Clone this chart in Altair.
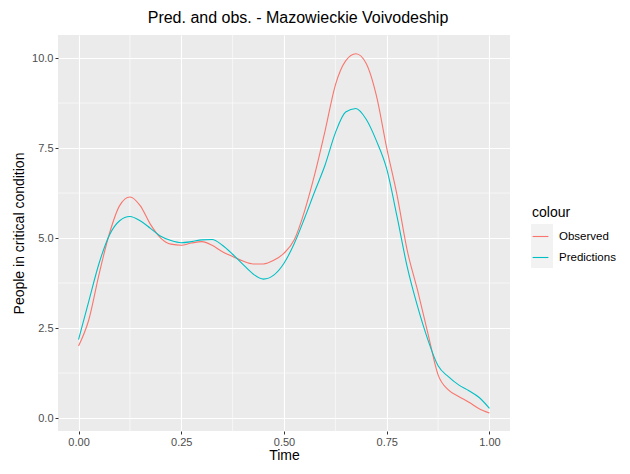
import altair as alt
import pandas as pd

time = [0.0, 0.025, 0.05, 0.075, 0.1, 0.125, 0.15, 0.175, 0.2, 0.225, 0.25, 0.275,
        0.3, 0.325, 0.35, 0.375, 0.4, 0.425, 0.45, 0.475, 0.5, 0.525, 0.55, 0.575,
        0.6, 0.625, 0.65, 0.675, 0.7, 0.725, 0.75, 0.775, 0.8, 0.825, 0.85, 0.875,
        0.9, 0.925, 0.95, 0.975, 1.0]
observed = [2.0, 2.73, 4.0, 5.12, 5.9, 6.14, 5.9, 5.38, 5.0, 4.83, 4.8, 4.86,
            4.9, 4.8, 4.62, 4.49, 4.36, 4.28, 4.28, 4.38, 4.58, 4.95, 5.75, 6.78,
            7.98, 9.25, 9.92, 10.12, 9.85, 8.95, 7.5, 6.2, 4.65, 3.55, 2.36, 1.2,
            0.78, 0.6, 0.44, 0.26, 0.14]
predictions = [2.18, 3.25, 4.3, 5.08, 5.48, 5.6, 5.48, 5.27, 5.05, 4.93, 4.87, 4.9,
               4.95, 4.96, 4.8, 4.55, 4.27, 4.0, 3.86, 3.97, 4.3, 4.85, 5.55, 6.3,
               7.03, 7.92, 8.5, 8.6, 8.3, 7.7, 6.92, 5.6, 4.19, 3.1, 2.18, 1.45,
               1.15, 0.92, 0.76, 0.57, 0.27]
series = ["Observed", "Predictions"]
colors = ["#F8766D", "#00BFC4"]
x_major = [0.0, 0.25, 0.5, 0.75, 1.0]
x_minor = [0.125, 0.375, 0.625, 0.875]
y_major = [0.0, 2.5, 5.0, 7.5, 10.0]
y_minor = [1.25, 3.75, 6.25, 8.75]

df = pd.concat([
    pd.DataFrame({"Time": time, "value": observed, "colour": series[0]}),
    pd.DataFrame({"Time": time, "value": predictions, "colour": series[1]}),
])

xscale = alt.Scale(domain=[-0.05, 1.05], nice=False, zero=False)
yscale = alt.Scale(domain=[-0.36, 10.64], nice=False, zero=False)
xaxis = alt.Axis(values=x_major, format=".2f", title="Time")
yaxis = alt.Axis(values=y_major, format=".1f", title="People in critical condition")

xminor = alt.Chart(pd.DataFrame({"x": x_minor})).mark_rule(
    color="white", strokeWidth=0.6
).encode(x=alt.X("x:Q", scale=xscale, axis=xaxis))
yminor = alt.Chart(pd.DataFrame({"y": y_minor})).mark_rule(
    color="white", strokeWidth=0.6
).encode(y=alt.Y("y:Q", scale=yscale, axis=yaxis))

legend_bg = alt.Chart(pd.DataFrame({"a": [0]})).mark_rect(color="#F2F2F2").encode(
    x=alt.value(473), x2=alt.value(495), y=alt.value(189), y2=alt.value(233)
)

lines = alt.Chart(df).mark_line(strokeWidth=1.1, interpolate="monotone").encode(
    x=alt.X("Time:Q", scale=xscale, axis=xaxis),
    y=alt.Y("value:Q", scale=yscale, axis=yaxis),
    color=alt.Color("colour:N",
                    scale=alt.Scale(domain=series, range=colors),
                    legend=alt.Legend(title="colour", orient="none",
                                      legendX=474, legendY=171)),
)

chart = alt.layer(xminor, yminor, legend_bg, lines).properties(
    width=452, height=396,
    autosize=alt.AutoSizeParams(type="none"),
    padding={"left": 50, "top": 27, "right": 112, "bottom": 35},
    title=alt.TitleParams("Pred. and obs. - Mazowieckie Voivodeship",
                          anchor="middle", dx=14, offset=9, fontSize=16,
                          font="Liberation Sans", fontWeight="normal",
                          color="black"),
).configure_view(
    fill="#EBEBEB", stroke=None
).configure_axis(
    domain=False, grid=True, gridColor="white", gridWidth=1.1,
    tickColor="#333333", tickSize=3, tickWidth=1,
    labelColor="#4D4D4D", labelFontSize=11, labelFont="Liberation Sans",
    labelPadding=2,
    titleFont="Liberation Sans", titleFontSize=14, titleFontWeight="normal",
    titleColor="black",
).configure_axisX(titlePadding=1).configure_axisY(titlePadding=5).configure_legend(
    symbolType="stroke", symbolStrokeWidth=1.1, symbolSize=250,
    labelFont="Liberation Sans", labelFontSize=11.5, labelColor="black",
    titleFont="Liberation Sans", titleFontSize=14, titleFontWeight="normal",
    titleColor="black", rowPadding=7, labelOffset=10, titlePadding=8,
)

chart.save("out.html", embed_options={"renderer": "svg", "actions": False})
